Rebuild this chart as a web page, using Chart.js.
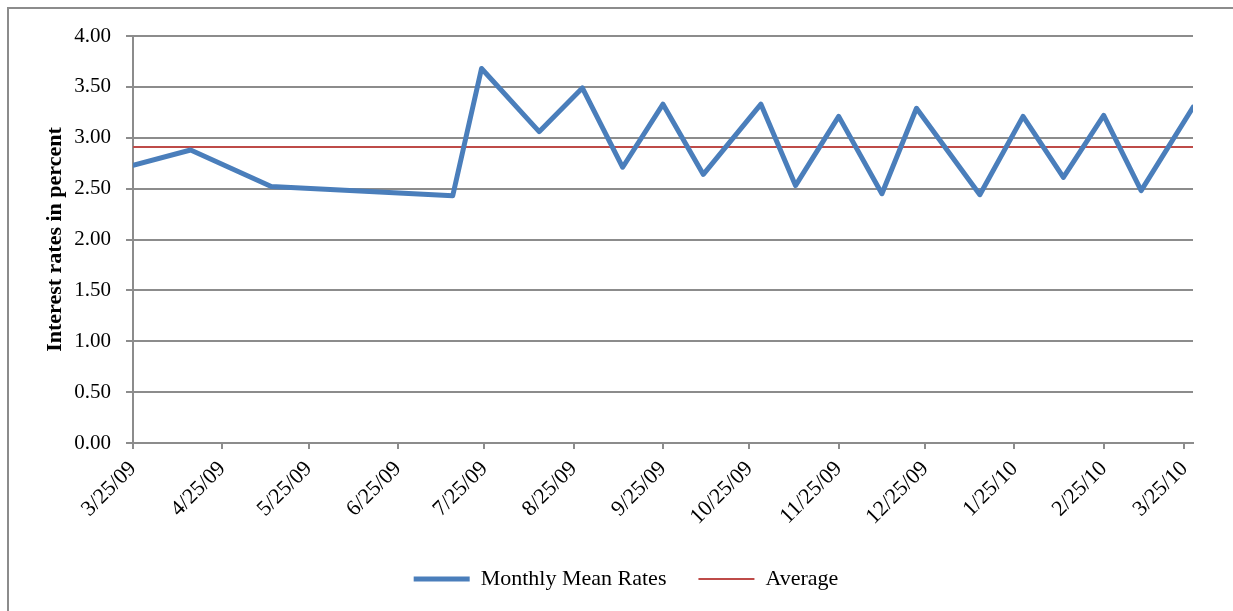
<!DOCTYPE html>
<html>
<head>
<meta charset="utf-8">
<script src="https://cdn.jsdelivr.net/npm/chart.js@4"></script>
<style>
  html, body { margin: 0; padding: 0; background: #fff; }
  #frame {
    position: absolute; left: 7px; top: 7px; width: 1226px; height: 604px;
    border-top: 2px solid #8c8c8c; border-left: 2px solid #8c8c8c;
  }
  #chart { position: absolute; left: 0; top: 0; }
</style>
</head>
<body>
<div id="frame"></div>
<canvas id="chart" width="1233" height="611"></canvas>
<script>
// Datas das observações (dia/mês/ano)
const obsDates = ['2009-03-25', '2009-04-14', '2009-05-12', '2009-07-14', '2009-07-24',
    '2009-08-13', '2009-08-28', '2009-09-11', '2009-09-25', '2009-10-09', '2009-10-29',
    '2009-11-10', '2009-11-25', '2009-12-10', '2009-12-22', '2010-01-13', '2010-01-28',
    '2010-02-11', '2010-02-25', '2010-03-10', '2010-03-28'];
const monthlyRates = [2.73, 2.88, 2.52, 2.43, 3.68, 3.06, 3.49, 2.71, 3.33, 2.64, 3.33,
    2.53, 3.21, 2.45, 3.29, 2.44, 3.21, 2.61, 3.22, 2.48, 3.30];
const averageRate = 2.91;
const tickDates = ['2009-03-25', '2009-04-25', '2009-05-25', '2009-06-25', '2009-07-25',
    '2009-08-25', '2009-09-25', '2009-10-25', '2009-11-25', '2009-12-25', '2010-01-25',
    '2010-02-25', '2010-03-25'];
const yTicks = [0, 0.5, 1, 1.5, 2, 2.5, 3, 3.5, 4];

const colors = {
    blue: '#4a7ebb',
    red: '#be4b48',
    grid: '#8c8c8c',
    text: '#000'
};
const serif = "'Liberation Serif', 'DejaVu Serif', serif";

// converte data em dias desde o início
const startMs = Date.parse(obsDates[0]);
function toDay(s) {
    return Math.round((Date.parse(s) - startMs) / 86400000);
}
function fmtDate(s) {
    const [y, m, d] = s.split('-');
    return parseInt(m) + '/' + parseInt(d) + '/' + y.slice(2);
}

const obsDays = obsDates.map(toDay);
const tickDays = tickDates.map(toDay);
const xMax = obsDays[obsDays.length - 1];

const ratePoints = obsDays.map((d, i) => ({ x: d, y: monthlyRates[i] }));
const avgPoints = [{ x: 0, y: averageRate }, { x: xMax, y: averageRate }];

new Chart(document.getElementById('chart').getContext('2d'), {
    type: 'line',
    data: {
        datasets: [{
            label: 'Monthly Mean Rates',
            data: ratePoints,
            borderColor: colors.blue,
            backgroundColor: colors.blue,
            borderWidth: 5,
            pointRadius: 0,
            pointStyle: 'line',
            tension: 0,
            borderJoinStyle: 'round',
            borderCapStyle: 'round'
        }, {
            label: 'Average',
            data: avgPoints,
            borderColor: colors.red,
            backgroundColor: colors.red,
            borderWidth: 2,
            pointRadius: 0,
            pointStyle: 'line',
            tension: 0
        }]
    },
    options: {
        responsive: false,
        animation: false,
        layout: { padding: { top: 36, right: 40, left: 59, bottom: 11 } },
        plugins: {
            legend: {
                position: 'bottom',
                labels: {
                    usePointStyle: true,
                    pointStyleWidth: 56,
                    padding: 32,
                    color: colors.text,
                    font: { family: serif, size: 22 }
                }
            },
            tooltip: { enabled: false }
        },
        scales: {
            x: {
                type: 'linear',
                min: 0,
                max: xMax,
                afterBuildTicks: (scale) => {
                    scale.ticks = tickDays.map(v => ({ value: v }));
                },
                afterFit: (scale) => { scale.height = 93; },
                ticks: {
                    minRotation: 45,
                    maxRotation: 45,
                    autoSkip: false,
                    color: colors.text,
                    font: { family: serif, size: 22 },
                    padding: 7,
                    callback: (v) => {
                        const i = tickDays.indexOf(v);
                        return i >= 0 ? fmtDate(tickDates[i]) : '';
                    }
                },
                grid: {
                    drawOnChartArea: false,
                    drawTicks: true,
                    tickLength: 6,
                    color: colors.grid,
                    lineWidth: 2
                },
                border: { color: colors.grid, width: 2 }
            },
            y: {
                min: 0,
                max: 4,
                afterBuildTicks: (scale) => {
                    scale.ticks = yTicks.map(v => ({ value: v }));
                },
                afterFit: (scale) => { scale.width = 74; },
                title: {
                    display: true,
                    text: 'Interest rates in percent',
                    color: colors.text,
                    font: { family: serif, size: 22, weight: 'bold' },
                    padding: { top: -17, bottom: 0 }
                },
                ticks: {
                    color: colors.text,
                    font: { family: serif, size: 21 },
                    padding: 15,
                    callback: (v) => v.toFixed(2)
                },
                grid: {
                    color: colors.grid,
                    lineWidth: 2,
                    tickLength: 7
                },
                border: { color: colors.grid, width: 2 }
            }
        }
    }
});
</script>
</body>
</html>
